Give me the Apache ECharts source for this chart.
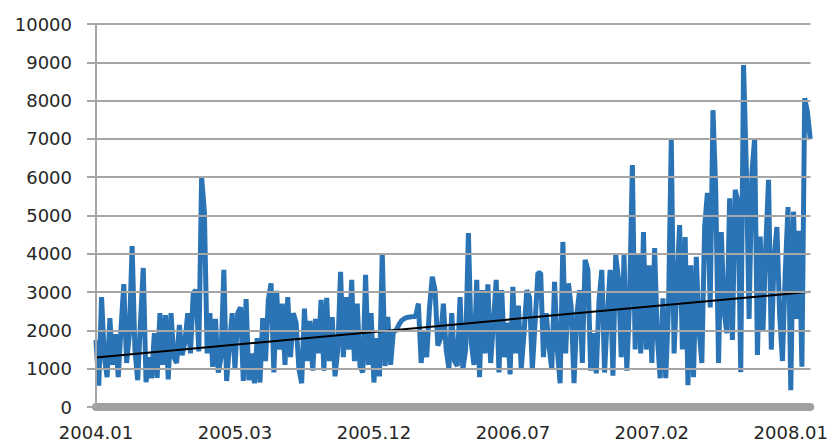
<!DOCTYPE html>
<html>
<head>
<meta charset="utf-8">
<script src="https://cdn.jsdelivr.net/npm/echarts@6/dist/echarts.min.js"></script>
<style>
  html, body { margin: 0; padding: 0; background: #fff; }
  #chart { width: 831px; height: 443px; }
</style>
</head>
<body>
<div id="chart"></div>
<script>
// Daily series, one value per observation (index on the x axis)
var values = [
  1750, 560, 2870, 1300, 780, 2320, 1100, 1900, 780, 2050,
  3210, 1150, 1900, 4200, 1500, 700, 2200, 3630, 650, 1300,
  750, 1930, 760, 2450, 1100, 2400, 720, 2450, 1300, 1150,
  2140, 1350, 1700, 2450, 1400, 2980, 3050, 1450, 6000, 5100,
  1400, 2450, 1050, 2300, 900, 1300, 3580, 680, 1600, 2450,
  1000, 2450, 2600, 680, 2820, 700, 1400, 620, 1800, 640,
  2320, 1200, 2800, 3230, 900, 3030, 1500, 2700, 1100, 2870,
  1300, 2450, 2200, 1000, 620, 2570, 1200, 2250, 950, 2300,
  1400, 2800, 950, 2850, 1200, 2350, 800, 1500, 3530, 1300,
  2870, 1500, 3320, 1200, 2700, 1050, 900, 3450, 1100, 2450,
  640, 1800, 800, 4020, 1070, 2350, 1100, 1970, 2000, 2150,
  2260, 2310, 2340, 2350, 2360, 2360, 2700, 1150, 2000, 1300,
  2600, 3400, 3050, 1600, 1800, 2700, 1500, 1000, 2450, 1200,
  1070, 2870, 980, 1500, 4540, 1700, 1100, 3320, 780, 3050,
  1400, 3200, 1150, 2200, 3320, 900, 3050, 1300, 2200, 850,
  3140, 1400, 2650, 1000, 1900, 3050, 2870, 980, 2200, 3500,
  3500, 1300, 2450, 1600, 980, 3270, 1500, 620, 4310, 1400,
  3230, 2600, 620, 2400, 3050, 1150, 3840, 3580, 950, 1930,
  880, 2790, 3580, 900, 2400, 3580, 820, 3970, 3350, 1300,
  3970, 950, 2790, 6320, 1500, 3970, 1400, 4570, 1500, 3700,
  1150, 4150, 1800, 750, 2840, 750, 2600, 6970, 1400, 3150,
  4750, 1500, 4440, 570, 3700, 780, 3920, 2000, 1150, 4700,
  5590, 2600, 7750, 5650, 1150, 4570, 2500, 1930, 5450, 1750,
  5670, 5370, 910, 8930, 6240, 2300, 6100, 7020, 1360, 4450,
  2000, 4180, 5930, 1500, 3880, 4700, 2400, 1200, 3500, 5220,
  440, 5100, 2300, 4600, 1050, 8060, 7700, 7000
];

// Linear trend: value at the first and the last observation
var trendValues = [1290, 3010];

// Period labels, one every labelStep observations
var tickLabels = ['2004.01', '2005.03', '2005.12', '2006.07', '2007.02', '2008.01'];
var labelStep = 50;

// Horizontal reference lines of the value axis
var yTicks = [1000, 2000, 3000, 4000, 5000, 6000, 7000, 8000, 9000, 10000];

var gridGray = '#a6a6a6';

function buildOption() {
  var lastIndex = values.length - 1;
  var seriesData = values.map(function (v, i) { return [i, v]; });
  var trendData = [[0, trendValues[0]], [lastIndex, trendValues[1]]];
  var gridLines = yTicks.map(function (v) { return { yAxis: v }; });
  gridLines.push({ xAxis: 0 });
  return {
    animation: false,
    grid: { left: 96, right: 20, top: 24, bottom: 36 },
    xAxis: {
      type: 'value', min: 0, max: lastIndex, interval: labelStep,
      offset: 4,
      axisLine: { show: true, lineStyle: { color: '#a0a0a0', width: 8 } },
      axisTick: { show: false },
      splitLine: { show: false },
      axisLabel: {
        margin: 12, fontSize: 18, color: '#262626',
        fontFamily: '"DejaVu Sans", sans-serif',
        formatter: function (v) { return tickLabels[v / labelStep] || ''; }
      }
    },
    yAxis: {
      type: 'value', min: 0, max: 10000, interval: 1000,
      axisLine: { show: true, lineStyle: { color: gridGray, width: 2 } },
      axisTick: { show: true, length: 9, lineStyle: { color: gridGray, width: 2 } },
      splitLine: { show: true, lineStyle: { color: gridGray, width: 2 } },
      axisLabel: {
        margin: 24, fontSize: 18, color: '#262626',
        fontFamily: '"DejaVu Sans", sans-serif',
        formatter: function (v) { return String(v); }
      }
    },
    series: [
      {
        // carries the reference lines beneath the data
        type: 'line', data: [], z: 1, silent: true,
        markLine: {
          silent: true, symbol: ['none', 'none'], animation: false,
          label: { show: false },
          lineStyle: { color: gridGray, width: 2, type: 'solid' },
          data: gridLines
        }
      },
      {
        type: 'line', data: seriesData, showSymbol: false, z: 2,
        lineStyle: { color: '#2a74b6', width: 5 }
      },
      {
        type: 'line', data: trendData, showSymbol: false, z: 3,
        lineStyle: { color: '#000000', width: 2 }
      }
    ]
  };
}

echarts.init(document.getElementById('chart'), null, { renderer: 'svg' }).setOption(buildOption());
</script>
</body>
</html>
